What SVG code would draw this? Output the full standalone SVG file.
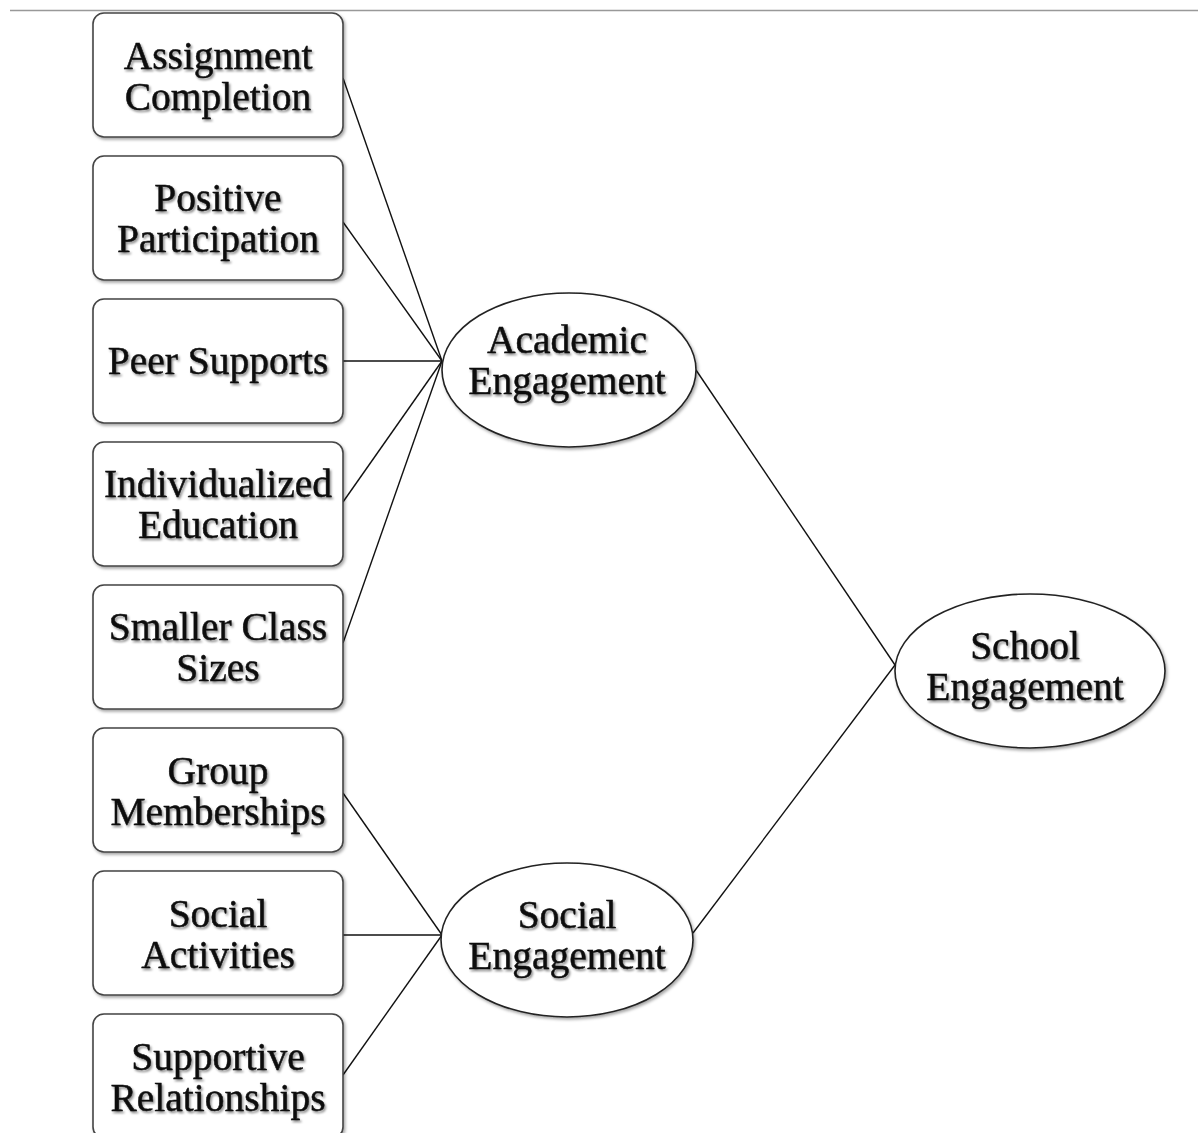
<svg xmlns="http://www.w3.org/2000/svg" width="1198" height="1133" viewBox="0 0 1198 1133">
<defs>
<filter id="sh" x="-10%" y="-10%" width="125%" height="130%">
<feDropShadow dx="1.5" dy="2" stdDeviation="1.5" flood-color="#000" flood-opacity="0.35"/>
</filter>
<filter id="tsh" x="-5%" y="-10%" width="115%" height="130%">
<feDropShadow dx="1.5" dy="2" stdDeviation="1.2" flood-color="#000" flood-opacity="0.45"/>
</filter>
</defs>
<style>
.box{fill:#fff;stroke:#444;stroke-width:1.6;filter:url(#sh)}
.ell{fill:#fff;stroke:#222;stroke-width:1.6;filter:url(#sh)}
.t{font-family:"Liberation Serif","Times New Roman",serif;font-size:39.5px;fill:#0a0a0a;stroke:#0a0a0a;stroke-width:0.4;text-anchor:middle;filter:url(#tsh)}
.c{stroke:#111;stroke-width:1.4;fill:none}
</style>
<rect width="1198" height="1133" fill="#fff"/>
<line x1="10" y1="10.5" x2="1198" y2="10.5" stroke="#999" stroke-width="1.5"/>
<g id="connectors">
<line class="c" x1="343" y1="78" x2="442" y2="361"/>
<line class="c" x1="343" y1="222" x2="442" y2="361"/>
<line class="c" x1="343" y1="361" x2="442" y2="361"/>
<line class="c" x1="343" y1="502" x2="442" y2="361"/>
<line class="c" x1="343" y1="643" x2="442" y2="361"/>
<line class="c" x1="343" y1="793" x2="442" y2="935"/>
<line class="c" x1="343" y1="935" x2="442" y2="935"/>
<line class="c" x1="343" y1="1075" x2="442" y2="935"/>
<line class="c" x1="696" y1="370" x2="895" y2="665"/>
<line class="c" x1="693" y1="933" x2="895" y2="665"/>
</g>
<g id="n1"><rect class="box" x="93" y="13" width="250" height="124" rx="11"/><text class="t" x="218" y="69">Assignment</text><text class="t" x="218" y="110">Completion</text></g>
<g id="n2"><rect class="box" x="93" y="156" width="250" height="124" rx="11"/><text class="t" x="218" y="211">Positive</text><text class="t" x="218" y="252">Participation</text></g>
<g id="n3"><rect class="box" x="93" y="299" width="250" height="124" rx="11"/><text class="t" x="218" y="374">Peer Supports</text></g>
<g id="n4"><rect class="box" x="93" y="442" width="250" height="124" rx="11"/><text class="t" x="218" y="497">Individualized</text><text class="t" x="218" y="538">Education</text></g>
<g id="n5"><rect class="box" x="93" y="585" width="250" height="124" rx="11"/><text class="t" x="218" y="640">Smaller Class</text><text class="t" x="218" y="681">Sizes</text></g>
<g id="n6"><rect class="box" x="93" y="728" width="250" height="124" rx="11"/><text class="t" x="218" y="784">Group</text><text class="t" x="218" y="825">Memberships</text></g>
<g id="n7"><rect class="box" x="93" y="871" width="250" height="124" rx="11"/><text class="t" x="218" y="927">Social</text><text class="t" x="218" y="968">Activities</text></g>
<g id="n8"><rect class="box" x="93" y="1014" width="250" height="124" rx="11"/><text class="t" x="218" y="1070">Supportive</text><text class="t" x="218" y="1111">Relationships</text></g>
<g id="academic"><ellipse class="ell" cx="569" cy="370" rx="127" ry="77"/><text class="t" x="567" y="353">Academic</text><text class="t" x="567" y="394">Engagement</text></g>
<g id="social"><ellipse class="ell" cx="567" cy="940" rx="126" ry="77"/><text class="t" x="567" y="928">Social</text><text class="t" x="567" y="969">Engagement</text></g>
<g id="school"><ellipse class="ell" cx="1030" cy="671" rx="135" ry="77"/><text class="t" x="1025" y="659">School</text><text class="t" x="1025" y="700">Engagement</text></g>
</svg>
